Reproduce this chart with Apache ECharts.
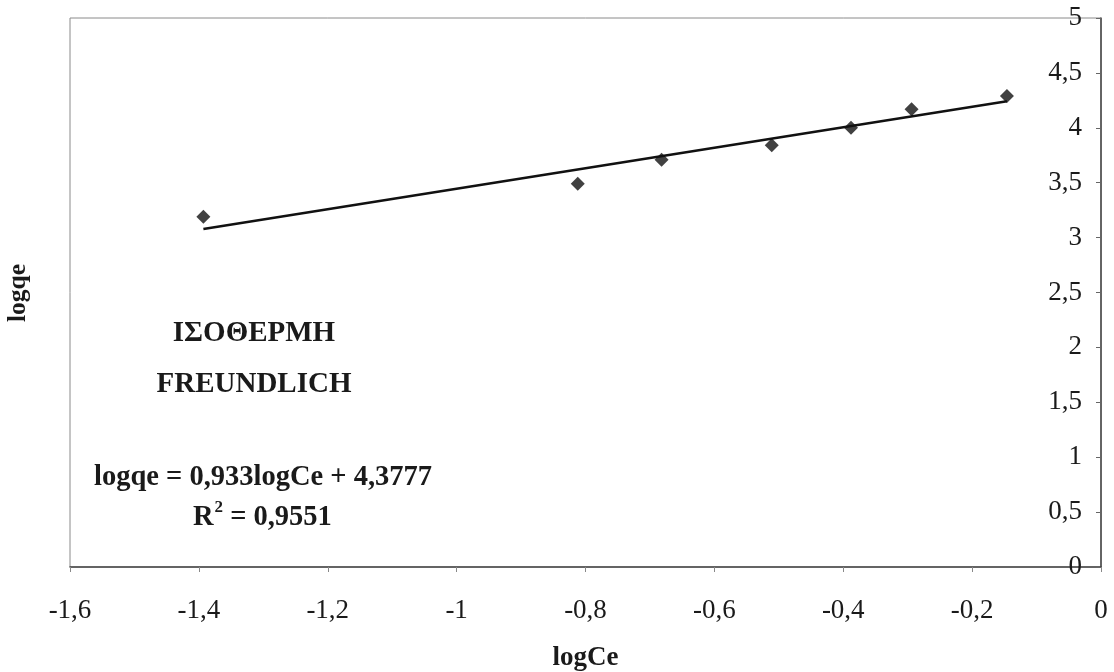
<!DOCTYPE html>
<html>
<head>
<meta charset="utf-8">
<script src="https://cdn.jsdelivr.net/npm/echarts@6/dist/echarts.min.js"></script>
<style>
  html, body { margin: 0; padding: 0; background: #fff; }
  #chart { width: 1114px; height: 672px; }
</style>
</head>
<body>
<div id="chart"></div>
<script>
// Freundlich isotherm: measured points (logCe, logqe)
const logCe = [-1.393, -0.812, -0.682, -0.511, -0.388, -0.294, -0.146];
const logqe = [3.19, 3.49, 3.71, 3.84, 4.00, 4.17, 4.29];

// Linear fit reported on the chart
const fitSlope = 0.933;
const fitIntercept = 4.3777;
const fitR2 = 0.9551;

const xTicks = { min: -1.6, max: 0, interval: 0.2 };
const yTicks = { min: 0, max: 5, interval: 0.5 };

const annotTitle = ['ΙΣΟΘΕΡΜΗ', 'FREUNDLICH'];
const eqText = 'logqe = 0,933logCe + 4,3777';

const comma = v => String(v).replace('.', ',');
const comma1 = v => String(Math.round(v * 10) / 10).replace('.', ',');

const points = logCe.map((x, i) => [x, logqe[i]]);
const xLo = Math.min(...logCe), xHi = Math.max(...logCe);
const fitLine = [xLo, xHi].map(x => [x, fitSlope * x + fitIntercept]);

const serif = '"Liberation Serif", "Times New Roman", serif';
const ink = '#1a1a1a';

function boldText(x, y, text, size, align) {
  return {
    type: 'text', x: x, y: y,
    style: {
      text: text, fontFamily: serif, fontWeight: 'bold', fontSize: size,
      fill: ink, textAlign: align || 'center', textVerticalAlign: 'middle'
    }
  };
}

const chart = echarts.init(document.getElementById('chart'));
chart.setOption({
  animation: false,
  backgroundColor: '#fff',
  grid: {
    left: 70, right: 13, top: 18, bottom: 105,
    outerBoundsMode: 'none',
    containLabel: false,
    show: true, borderColor: '#8a8a8a', borderWidth: 1
  },
  xAxis: {
    type: 'value',
    min: xTicks.min, max: xTicks.max, interval: xTicks.interval,
    name: 'logCe',
    nameLocation: 'middle',
    nameGap: 78,
    nameTextStyle: { fontFamily: serif, fontWeight: 'bold', fontSize: 27, color: ink },
    axisLine: { onZero: false, lineStyle: { color: '#444', width: 1.5 } },
    axisTick: { show: true, length: 5, lineStyle: { color: '#888' } },
    axisLabel: {
      margin: 30, fontFamily: serif, fontSize: 27, color: ink,
      showMinLabel: true, showMaxLabel: true, formatter: comma1
    },
    splitLine: { show: false }
  },
  yAxis: {
    type: 'value',
    position: 'right',
    min: yTicks.min, max: yTicks.max, interval: yTicks.interval,
    axisLine: { show: true, onZero: false, lineStyle: { color: '#444', width: 1.5 } },
    axisTick: { show: true, inside: true, length: 5, lineStyle: { color: '#666' } },
    axisLabel: {
      inside: true, margin: 19, fontFamily: serif, fontSize: 27, color: ink,
      showMinLabel: true, showMaxLabel: true, formatter: comma1
    },
    splitLine: { show: false }
  },
  graphic: [
    {
      type: 'text', x: 18, y: 293, rotation: Math.PI / 2,
      style: {
        text: 'logqe', fontFamily: serif, fontWeight: 'bold', fontSize: 25.5,
        fill: ink, textAlign: 'center', textVerticalAlign: 'middle'
      }
    },
    boldText(254, 334, annotTitle[0], 29),
    boldText(254, 385, annotTitle[1], 29),
    boldText(263, 478, eqText, 28.5),
    // R² line: base letter, raised exponent, then the value
    boldText(193, 518, 'R', 28.5, 'left'),
    boldText(214.5, 508, '2', 17, 'left'),
    boldText(223, 518, ' = ' + comma(fitR2), 28.5, 'left')
  ],
  series: [
    {
      name: 'fit',
      type: 'line',
      data: fitLine,
      symbol: 'none',
      lineStyle: { color: '#111', width: 2.5 },
      z: 2
    },
    {
      name: 'logqe',
      type: 'scatter',
      data: points,
      symbol: 'diamond',
      symbolSize: 14,
      itemStyle: { color: '#111' },
      z: 3
    }
  ]
});
</script>
</body>
</html>
